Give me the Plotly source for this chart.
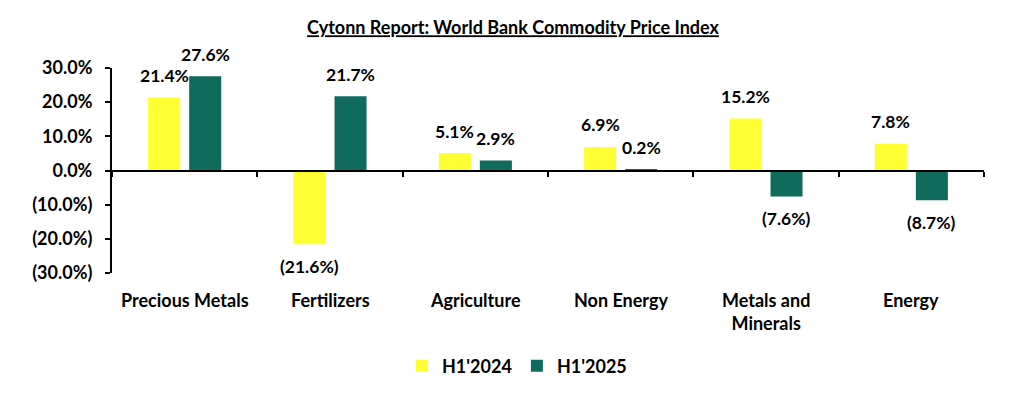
import plotly.graph_objects as go

categories = ["Precious Metals", "Fertilizers", "Agriculture", "Non Energy", "Metals and<br>Minerals", "Energy"]
h1_2024 = [21.4, -21.6, 5.1, 6.9, 15.2, 7.8]
h1_2025 = [27.6, 21.7, 2.9, 0.2, -7.6, -8.7]
series_names = ["H1'2024", "H1'2025"]
y_tickvals = [30, 20, 10, 0, -10, -20, -30]
y_ticktext = ["30.0%", "20.0%", "10.0%", "0.0%", "(10.0%)", "(20.0%)", "(30.0%)"]
title_text = "Cytonn Report: World Bank Commodity Price Index"

colors = ["#FFFF33", "#0F6B5B"]
FONT = "Lato, Carlito, Calibri, sans-serif"
BOLD = dict(family=FONT, size=18, color="black", weight="bold")
LBL = dict(family=FONT, size=17.5, color="black", weight="bold")

# page body has an 8px margin; figure size compensates
W, H = 1020, 388


def fmt(v):
    return f"{v:.1f}%" if v >= 0 else f"({abs(v):.1f}%)"


fig = go.Figure()
for name, vals, col in zip(series_names, [h1_2024, h1_2025], colors):
    fig.add_trace(go.Bar(x=categories, y=vals, name=name, marker=dict(color=col, line=dict(width=0))))

annotations = []
# value labels
for vals, xs in zip([h1_2024, h1_2025], [-20.5, 20.5]):
    for c, v in zip(categories, vals):
        annotations.append(dict(
            x=c, y=v, xref="x", yref="y", text=fmt(v), showarrow=False,
            xshift=xs, yshift=22 if v >= 0 else -22, font=LBL,
        ))
# category labels below the plot
for c in categories:
    annotations.append(dict(
        x=c, y=0, xref="x", yref="paper", text=c, showarrow=False,
        yanchor="top", yshift=-14, align="center", font=BOLD,
    ))

fig.update_layout(
    width=W, height=H,
    margin=dict(l=104, r=44, t=60, b=123, autoexpand=False),
    paper_bgcolor="white", plot_bgcolor="white",
    barmode="group", bargap=0.435, bargroupgap=0.22,
    font=BOLD,
    title=dict(text=f"<u>{title_text}</u>", x=(513 - 8) / W, xref="container", xanchor="center",
               y=1 - 20 / H, yref="container", yanchor="middle", font=BOLD),
    showlegend=True,
    legend=dict(orientation="h", x=(517 - 8) / W, xanchor="center", xref="container",
                y=1 - 358 / H, yanchor="middle", yref="container",
                font=BOLD, traceorder="normal", itemwidth=30),
    xaxis=dict(type="category", anchor="free", position=0.5,
               tickson="boundaries", ticks="outside", ticklen=5, tickwidth=2, tickcolor="black",
               showticklabels=False, showline=True, linecolor="black", linewidth=2,
               showgrid=False, zeroline=False, automargin=False),
    yaxis=dict(range=[-30, 30], tickvals=y_tickvals, ticktext=y_ticktext,
               showline=True, linecolor="black", linewidth=2, ticks="outside", ticklen=5,
               tickwidth=2, tickcolor="black", showgrid=False, zeroline=False, automargin=False,
               tickfont=BOLD, ticklabelstandoff=9),
    annotations=annotations,
)

fig.write_html("out.html")
